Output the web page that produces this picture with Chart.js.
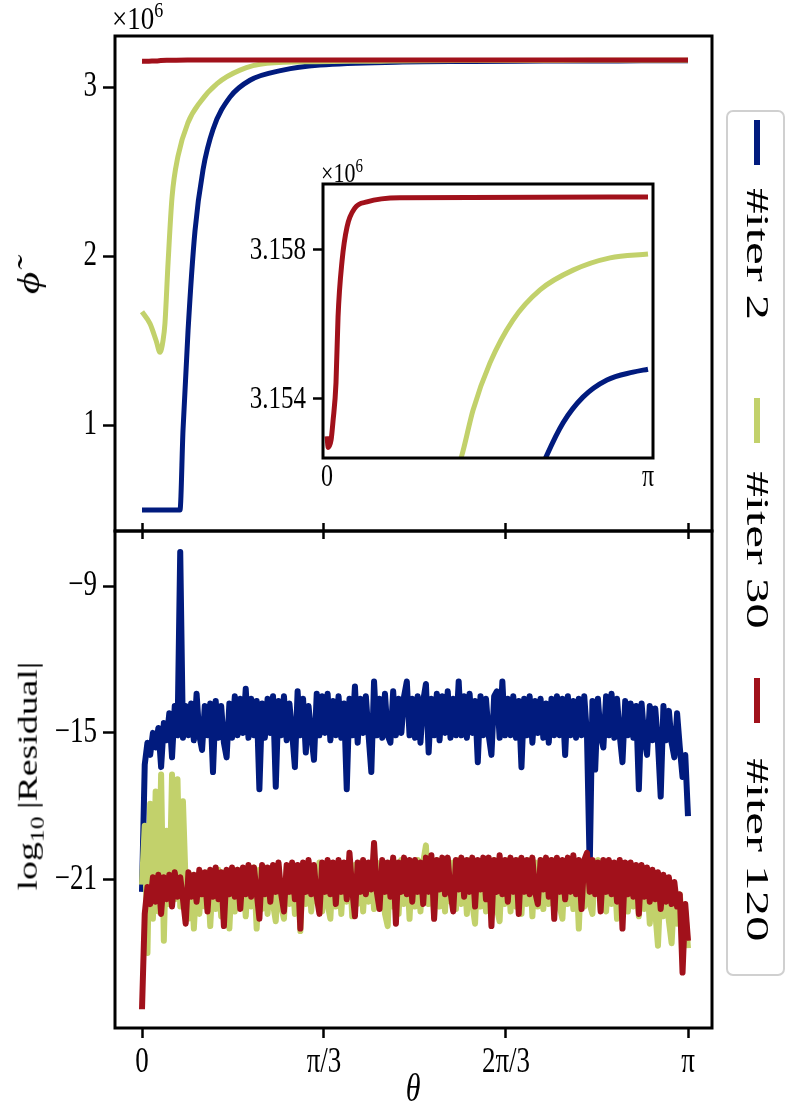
<!DOCTYPE html>
<html>
<head>
<meta charset="utf-8">
<script src="https://cdn.jsdelivr.net/npm/chart.js@4.4.1/dist/chart.umd.min.js"></script>
<style>
  body { margin: 0; background: #fff; width: 787px; height: 1103px; overflow: hidden; position: relative;
         font-family: 'Liberation Serif', 'DejaVu Serif', serif; color: #000; }
  canvas { position: absolute; }
  .txt { position: absolute; white-space: nowrap; line-height: 1; }
  .rot { transform: translate(-50%, -50%) rotate(-90deg) scaleX(1.35); }
</style>
</head>
<body>
<canvas id="topChart" width="787" height="580" style="left:0;top:0"></canvas>
<canvas id="bottomChart" width="787" height="603" style="left:0;top:500px"></canvas>
<canvas id="insetChart" width="470" height="360" style="left:200px;top:150px"></canvas>

<div class="txt" style="left:112px;top:5px;font-size:27px;transform:scaleY(1.2);transform-origin:left bottom">×10<sup style="font-size:18px">6</sup></div>
<div class="txt" style="left:321px;top:162px;font-size:22px;transform:scaleY(1.2);transform-origin:left bottom">×10<sup style="font-size:15px">6</sup></div>
<div class="txt rot" style="left:28px;top:283px;font-size:32px;font-style:italic">ϕ̃</div>
<div class="txt rot" style="left:30px;top:776px;font-size:28px">log<sub style="font-size:19px">10</sub>&thinsp;|Residual|</div>
<div class="txt" style="left:413px;top:1088px;font-size:30px;font-style:italic;transform:translate(-50%,-50%) scaleY(1.3)">θ</div>
<div id="legend" style="position:absolute;left:726px;top:110px;width:55px;height:862px;border:2px solid #d0d0d0;border-radius:7px;"></div>

<script>
// ---- legend / colours ----
const seriesLabels = ['#iter 2', '#iter 30', '#iter 120'];
const seriesColors = ['#011b7e', '#c2d16b', '#a1111b'];

// ---- top panel: phi (x10^6) vs theta ----
const phiTheta2 = [0, 0.2187, 0.236, 0.265, 0.305, 0.351, 0.409, 0.506, 0.621, 0.811, 1.024, 1.5, 1.9, 2.153, 2.31, 2.505, 2.74, 2.995, 3.1416];
const phiIter2  = [0.497, 0.497, 0.97, 1.56, 2.15, 2.51, 2.75, 2.94, 3.04, 3.10, 3.13, 3.1475, 3.1508, 3.1525, 3.15336, 3.15405, 3.15451, 3.15472, 3.1548];

const phiTheta30 = [0, 0.046, 0.081, 0.104, 0.121, 0.132, 0.150, 0.173, 0.207, 0.265, 0.334, 0.432, 0.564, 0.719, 1.0, 1.321, 1.429, 1.595, 1.82, 2.085, 2.408, 2.77, 3.1416];
const phiIter30  = [1.67, 1.60, 1.50, 1.43, 1.50, 1.60, 1.96, 2.35, 2.59, 2.79, 2.91, 3.02, 3.10, 3.14, 3.150, 3.1525, 3.1537, 3.15497, 3.15612, 3.15693, 3.15746, 3.15779, 3.15789];

const phiTheta120 = [0, 0.012, 0.04, 0.0587, 0.088, 0.108, 0.147, 0.196, 0.274, 0.391, 0.714, 3.1416];
const phiIter120  = [3.1530, 3.1527, 3.1529, 3.1534, 3.15443, 3.1562, 3.1577, 3.15862, 3.15913, 3.15929, 3.1594, 3.15942];

const phiTicks = [1, 2, 3];
const phiTickLabels = ['1', '2', '3'];
const insetTicks = [3.154, 3.158];
const insetTickLabels = ['3.154', '3.158'];

// ---- bottom panel: log10 |Residual| on a uniform theta grid (0..pi) ----
const resIter2 = [
  -21.5,-16.3,-15.4,-15.9,-15.0,-15.6,-14.8,-16.4,-14.6,-15.3,
  -14.2,-16.0,-13.9,-15.1,-7.6,-15.2,-13.9,-15.1,-13.8,-15.3,
  -13.4,-15.1,-15.7,-13.9,-15.1,-13.8,-16.6,-13.7,-15.2,-13.9,
  -15.4,-16.0,-13.8,-15.2,-13.5,-15.1,-13.6,-15.0,-13.2,-15.2,
  -13.6,-15.1,-13.7,-17.3,-13.8,-15.2,-13.6,-15.0,-13.5,-17.2,
  -13.7,-15.1,-13.5,-15.3,-13.8,-15.0,-16.4,-13.3,-15.1,-13.6,
  -15.8,-13.9,-15.1,-16.1,-13.4,-15.1,-13.5,-15.0,-13.4,-15.3,
  -13.7,-15.1,-13.5,-15.2,-13.8,-17.3,-13.6,-15.1,-13.1,-15.4,
  -13.6,-15.0,-13.5,-15.1,-16.6,-12.9,-15.1,-13.6,-15.2,-13.4,
  -15.1,-15.4,-13.3,-15.1,-13.6,-15.0,-13.5,-12.9,-15.1,-13.6,
  -15.2,-13.5,-15.4,-13.7,-13.0,-15.8,-13.6,-15.1,-13.4,-15.3,
  -13.5,-15.0,-13.3,-15.2,-13.6,-15.1,-12.9,-15.1,-13.5,-15.2,
  -13.4,-15.0,-13.7,-16.2,-13.5,-15.1,-13.6,-15.1,-15.9,-13.5,
  -13.3,-15.2,-12.9,-15.1,-13.6,-15.1,-13.5,-15.2,-13.7,-16.4,
  -13.6,-15.1,-13.5,-15.4,-13.7,-15.0,-13.6,-15.2,-13.8,-15.4,
  -13.6,-15.1,-13.5,-15.1,-13.6,-15.9,-13.5,-15.1,-13.7,-15.2,
  -13.6,-15.1,-13.5,-15.1,-20.5,-13.7,-16.5,-13.6,-15.1,-15.6,
  -13.5,-15.1,-13.4,-15.2,-13.6,-15.1,-16.2,-13.7,-15.1,-13.8,
  -15.2,-13.9,-17.3,-13.8,-15.2,-15.9,-13.9,-15.3,-14.0,-15.4,
  -17.6,-13.9,-15.3,-14.1,-15.4,-16.0,-14.2,-15.6,-16.8,-15.9,
  -18.4
];
const resIter30 = [
  -21.2,-18.8,-24.0,-17.9,-22.6,-17.4,-22.3,-16.7,-23.5,-19.0,
  -22.0,-16.7,-21.8,-16.9,-22.1,-17.8,-21.2,-22.6,-20.8,-23.0,
  -20.9,-22.4,-20.8,-22.1,-20.7,-22.9,-20.8,-22.2,-20.6,-22.5,
  -20.7,-22.0,-23.0,-20.7,-22.3,-20.6,-22.0,-20.6,-22.5,-20.7,
  -22.1,-20.5,-23.0,-20.6,-22.2,-20.5,-22.4,-20.6,-22.0,-22.7,
  -20.5,-22.1,-22.6,-20.5,-22.0,-20.4,-22.4,-20.5,-23.1,-20.4,
  -22.0,-20.4,-22.3,-20.5,-21.9,-20.3,-22.3,-20.4,-22.0,-22.6,
  -20.4,-22.1,-20.3,-22.4,-20.4,-21.9,-20.3,-22.5,-20.4,-22.0,
  -20.3,-22.3,-20.4,-21.9,-20.3,-22.2,-20.3,-22.0,-20.4,-22.4,
  -22.9,-20.3,-22.1,-20.3,-22.4,-20.2,-22.0,-20.3,-22.6,-20.3,
  -22.1,-20.2,-22.3,-20.3,-19.6,-22.0,-20.3,-22.5,-20.2,-22.1,
  -20.3,-22.3,-20.2,-21.9,-20.3,-22.2,-20.2,-22.0,-20.3,-22.4,
  -20.2,-22.0,-22.8,-20.3,-22.1,-20.2,-22.3,-20.3,-21.9,-20.2,
  -22.2,-22.7,-20.3,-22.0,-20.2,-22.3,-20.3,-22.1,-20.2,-22.4,
  -20.3,-22.0,-20.2,-22.5,-20.3,-22.1,-20.2,-22.2,-20.3,-22.0,
  -20.2,-22.3,-20.3,-22.1,-22.6,-20.3,-22.0,-20.2,-22.2,-20.3,
  -23.0,-20.3,-22.1,-20.1,-22.0,-22.4,-20.3,-20.2,-22.2,-20.4,
  -22.3,-20.4,-22.0,-20.5,-22.6,-20.5,-22.1,-20.6,-22.3,-20.6,
  -22.1,-20.7,-22.5,-20.8,-22.2,-20.9,-22.8,-21.0,-22.3,-23.7,
  -21.1,-22.5,-21.2,-22.7,-23.6,-21.4,-22.8,-21.6,-23.0,-22.3,
  -23.8
];
const resIter120 = [
  -26.3,-22.4,-21.3,-22.0,-20.9,-21.9,-20.8,-22.4,-20.9,-21.8,
  -20.8,-22.1,-20.7,-21.7,-20.9,-21.8,-22.8,-20.7,-21.7,-20.8,
  -21.9,-20.6,-21.6,-20.7,-22.3,-20.6,-21.7,-20.5,-21.8,-20.7,
  -22.9,-20.6,-21.6,-20.5,-21.7,-20.6,-22.2,-20.5,-21.6,-20.4,
  -21.7,-20.5,-21.5,-22.6,-20.4,-21.6,-20.5,-21.9,-20.4,-21.5,
  -20.3,-21.6,-22.3,-20.4,-21.5,-20.3,-21.8,-20.4,-23.0,-20.3,
  -21.5,-20.2,-21.6,-20.4,-21.7,-22.4,-20.3,-21.5,-20.2,-21.6,
  -20.3,-22.0,-20.2,-21.5,-20.3,-21.8,-19.9,-21.4,-22.5,-20.3,
  -21.5,-20.2,-21.6,-20.3,-21.4,-19.5,-21.5,-22.2,-20.2,-21.5,
  -20.3,-21.7,-20.1,-22.8,-20.3,-21.5,-20.1,-21.6,-20.2,-21.9,
  -20.2,-21.5,-20.3,-22.0,-20.1,-21.5,-20.0,-22.6,-20.2,-21.4,
  -20.1,-21.6,-20.1,-21.5,-22.3,-20.2,-21.4,-20.1,-21.7,-20.2,
  -21.5,-20.1,-22.1,-20.2,-21.4,-20.1,-21.8,-20.1,-22.9,-20.2,
  -21.5,-20.0,-21.6,-20.2,-21.9,-20.1,-21.5,-20.2,-22.4,-20.1,
  -21.5,-20.2,-21.6,-20.1,-21.5,-22.0,-20.2,-21.4,-20.1,-21.7,
  -20.2,-22.6,-20.1,-21.5,-20.2,-21.8,-20.1,-21.5,-20.0,-21.6,
  -20.2,-22.2,-20.2,-19.9,-21.5,-20.2,-21.6,-20.3,-22.3,-20.2,
  -21.5,-20.2,-21.6,-20.3,-21.9,-20.2,-23.0,-20.3,-21.6,-20.3,
  -21.7,-20.4,-22.4,-20.4,-21.7,-20.5,-21.9,-20.6,-21.8,-20.7,
  -22.2,-20.8,-21.9,-20.9,-22.0,-21.1,-22.1,-21.6,-24.8,-22.0,
  -23.5
];
const resTicks = [-21, -15, -9];
const resTickLabels = ['\u221221', '\u221215', '\u22129'];

const thetaTicks = [0, Math.PI / 3, 2 * Math.PI / 3, Math.PI];
const thetaTickLabels = ['0', 'π/3', '2π/3', 'π'];

// ---- helpers ----
const FONT = "'Liberation Serif', 'DejaVu Serif', serif";
const STRETCH = 1.3; // reference figure is drawn taller than wide
const pts = (xs, ys) => ys.map((y, i) => ({ x: xs[i], y: y }));
const resGrid = resIter2.map((_, i) => i * Math.PI / (resIter2.length - 1));
const fixTicks = arr => scale => { scale.ticks = arr.map(v => ({ value: v })); };
const tickGrid = len => ({ display: true, drawOnChartArea: false, drawTicks: len > 0, tickLength: len, tickWidth: 2.5, tickColor: '#000' });

const framePlugin = {
  id: 'frame',
  beforeDraw(chart, args, opts) {
    if (!opts.fill) return;
    const { ctx, chartArea: a } = chart;
    ctx.save(); ctx.fillStyle = '#fff';
    ctx.fillRect(a.left, a.top, a.right - a.left, a.bottom - a.top);
    ctx.restore();
  },
  afterDatasetsDraw(chart, args, opts) {
    const { ctx, chartArea: a } = chart;
    ctx.save(); ctx.strokeStyle = '#000'; ctx.lineWidth = 3;
    ctx.strokeRect(a.left, a.top, a.right - a.left, a.bottom - a.top);
    ctx.restore();
  }
};

// tick labels, vertically stretched like the reference type
const tallTicks = {
  id: 'tallTicks',
  afterDraw(chart, args, opts) {
    const ctx = chart.ctx;
    (opts.axes || []).forEach(ax => {
      const sc = chart.scales[ax.id];
      ctx.save();
      ctx.font = ax.size + 'px ' + FONT;
      ctx.fillStyle = '#000';
      ctx.textBaseline = 'middle';
      sc.ticks.forEach((t, i) => {
        let x, y;
        if (sc.isHorizontal()) { x = sc.getPixelForValue(t.value); y = sc.top + ax.offset; ctx.textAlign = 'center'; }
        else { x = sc.right - ax.offset; y = sc.getPixelForValue(t.value); ctx.textAlign = 'right'; }
        ctx.save(); ctx.translate(x, y); ctx.scale(1, STRETCH);
        ctx.fillText(ax.labels[i], 0, 0);
        ctx.restore();
      });
      ctx.restore();
    });
  }
};

function lineSet(data, idx, width, smooth) {
  return {
    label: seriesLabels[idx], data: data, borderColor: seriesColors[idx],
    borderWidth: width, pointRadius: 0, order: 3 - idx,
    borderJoinStyle: 'round', borderCapStyle: 'butt',
    cubicInterpolationMode: smooth ? 'monotone' : 'default', tension: 0
  };
}

function baseOpts(extraPlugins) {
  return {
    responsive: false, animation: false, events: [],
    plugins: Object.assign({ legend: { display: false }, tooltip: { enabled: false } }, extraPlugins)
  };
}

const X_MIN = -27 * Math.PI / 546, X_MAX = Math.PI + 24 * Math.PI / 546;

// ---- top chart ----
new Chart(document.getElementById('topChart'), {
  type: 'line',
  data: { datasets: [
    lineSet(pts(phiTheta2, phiIter2), 0, 5, true),
    lineSet(pts(phiTheta30, phiIter30), 1, 5, true),
    lineSet(pts(phiTheta120, phiIter120), 2, 5, true)
  ] },
  options: Object.assign(baseOpts({ frame: {}, tallTicks: { axes: [{ id: 'y', labels: phiTickLabels, size: 27, offset: 18 }] } }), {
    layout: { padding: { left: 0, right: 75, top: 36, bottom: 0 } },
    scales: {
      x: { type: 'linear', min: X_MIN, max: X_MAX, afterBuildTicks: fixTicks(thetaTicks),
           ticks: { display: false }, grid: tickGrid(8), border: { display: false },
           afterFit: s => { s.height = 580 - 531; } },
      y: { type: 'linear', min: 1 - 106 / 169, max: 3 + 51 / 169, afterBuildTicks: fixTicks(phiTicks),
           ticks: { display: false }, grid: tickGrid(12), border: { display: false },
           afterFit: s => { s.width = 115; } }
    }
  }),
  plugins: [framePlugin, tallTicks]
});

// ---- bottom chart ----
new Chart(document.getElementById('bottomChart'), {
  type: 'line',
  data: { datasets: [
    lineSet(pts(resGrid, resIter2), 0, 6, false),
    lineSet(pts(resGrid, resIter30), 1, 6, false),
    lineSet(pts(resGrid, resIter120), 2, 6, false)
  ] },
  options: Object.assign(baseOpts({ frame: {}, tallTicks: { axes: [
      { id: 'y', labels: resTickLabels, size: 27, offset: 18 },
      { id: 'x', labels: thetaTickLabels, size: 27, offset: 35 } ] } }), {
    layout: { padding: { left: 0, right: 75, top: 0, bottom: 0 } },
    scales: {
      x: { type: 'linear', position: 'bottom', min: X_MIN, max: X_MAX, afterBuildTicks: fixTicks(thetaTicks),
           ticks: { display: false }, grid: tickGrid(10), border: { display: false },
           afterFit: s => { s.height = 1103 - 1028; } },
      xTop: { type: 'linear', position: 'top', min: X_MIN, max: X_MAX, afterBuildTicks: fixTicks(thetaTicks),
           ticks: { display: false }, grid: tickGrid(8), border: { display: false },
           afterFit: s => { s.height = 31; } },
      y: { type: 'linear', min: -21 - 148 / 24.4, max: -9 + 55 / 24.4, afterBuildTicks: fixTicks(resTicks),
           ticks: { display: false }, grid: tickGrid(12), border: { display: false },
           afterFit: s => { s.width = 115; } }
    }
  }),
  plugins: [framePlugin, tallTicks]
});

// ---- inset chart ----
new Chart(document.getElementById('insetChart'), {
  type: 'line',
  data: { datasets: [
    lineSet(pts(phiTheta2, phiIter2), 0, 5, true),
    lineSet(pts(phiTheta30, phiIter30), 1, 5, true),
    lineSet(pts(phiTheta120, phiIter120), 2, 5, true)
  ] },
  options: Object.assign(baseOpts({ frame: { fill: true }, tallTicks: { axes: [
      { id: 'y', labels: insetTickLabels, size: 25, offset: 17 },
      { id: 'x', labels: ['0', 'π'], size: 24, offset: 20 } ] } }), {
    layout: { padding: { left: 0, right: 17, top: 34, bottom: 0 } },
    scales: {
      x: { type: 'linear', min: -4 * Math.PI / 321, max: Math.PI + 5 * Math.PI / 321,
           afterBuildTicks: fixTicks([0, Math.PI]),
           ticks: { display: false }, grid: tickGrid(0), border: { display: false },
           afterFit: s => { s.height = 360 - 308; } },
      y: { type: 'linear', min: 3.154 - 59 / 149 * 0.004, max: 3.158 + 66 / 149 * 0.004,
           afterBuildTicks: fixTicks(insetTicks),
           ticks: { display: false }, grid: tickGrid(10), border: { display: false },
           afterFit: s => { s.width = 123; } }
    }
  }),
  plugins: [framePlugin, tallTicks]
});

// ---- legend (vertical, rotated entries) ----
const legendHandleTop = [120, 398, 678];
const legendTextMid = [254, 550, 850];
seriesLabels.forEach((lab, i) => {
  const h = document.createElement('div');
  h.style.cssText = `position:absolute;left:754px;top:${legendHandleTop[i]}px;width:6px;height:45px;background:${seriesColors[i]}`;
  document.body.appendChild(h);
  const t = document.createElement('div');
  t.className = 'txt';
  t.style.cssText += `left:757px;top:${legendTextMid[i]}px;font-size:31px;transform:translate(-50%,-50%) rotate(90deg) scaleX(1.65);`;
  t.textContent = lab;
  document.body.appendChild(t);
});
</script>
</body>
</html>
